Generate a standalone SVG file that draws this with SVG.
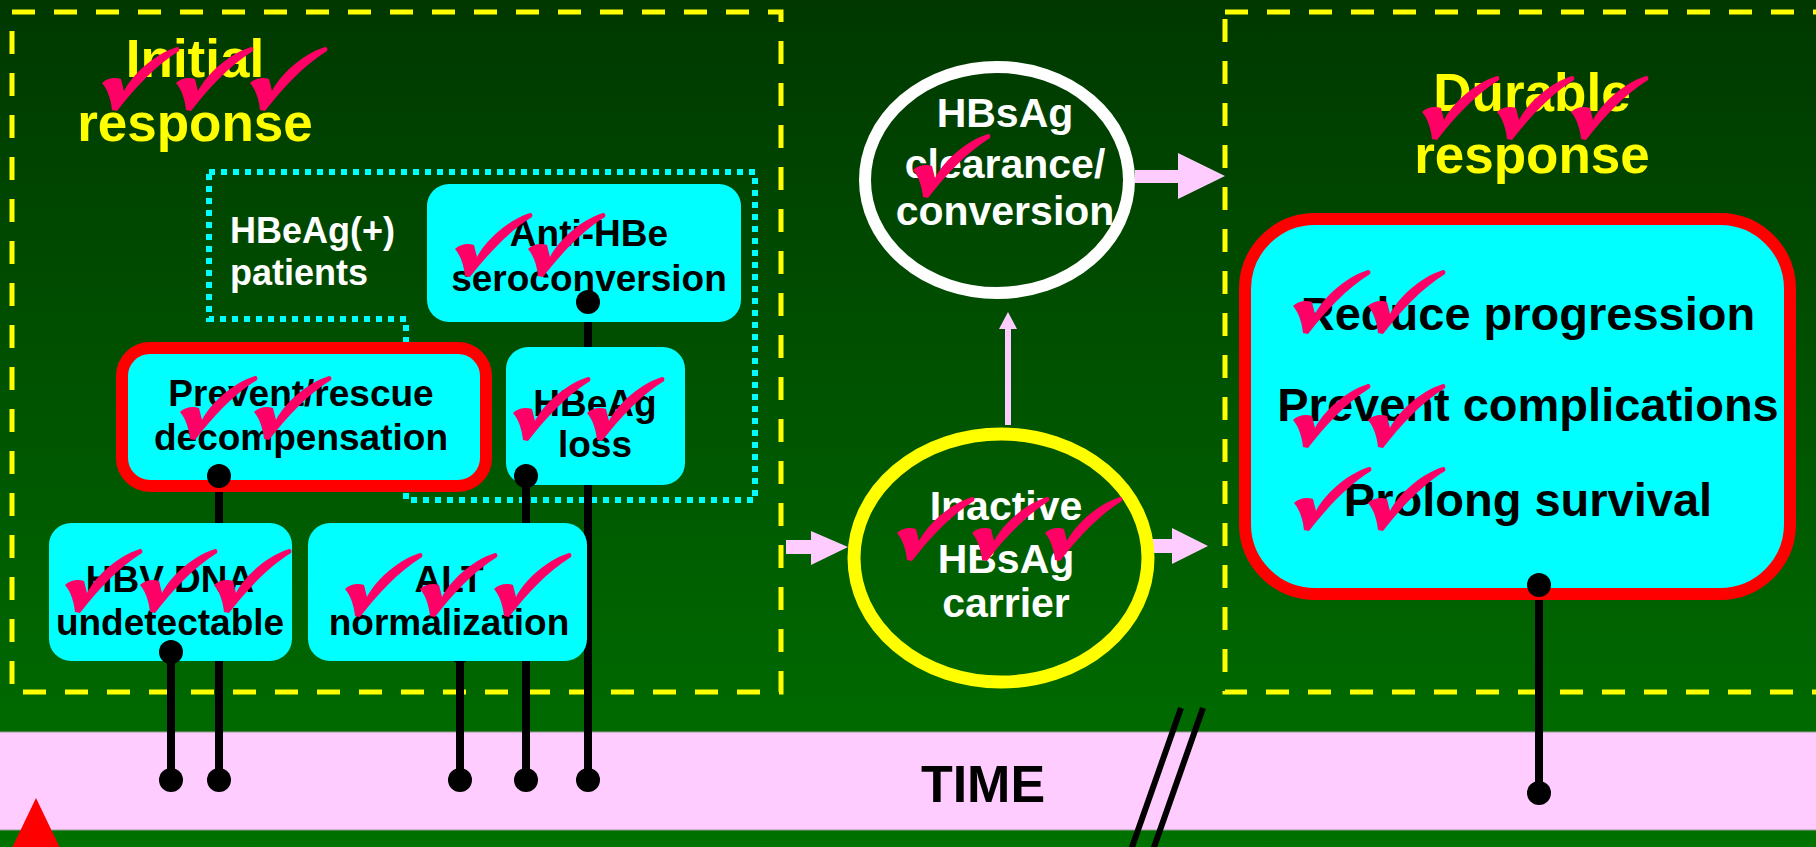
<svg xmlns="http://www.w3.org/2000/svg" xmlns:xlink="http://www.w3.org/1999/xlink" width="1816" height="847" viewBox="0 0 1816 847">
<style>
.t{font-family:"Liberation Sans",Arial,sans-serif;font-weight:bold;text-anchor:middle}
.box{fill:#00FFFF}
.bt{font-size:37px;fill:#000}
.wt{font-size:41px;fill:#FFFFFF}
.yt{font-size:53px;fill:#FFFF00}
.dt{font-size:47px;fill:#000}
.dash{fill:none;stroke:#FFFF00;stroke-width:5;stroke-dasharray:23 19}
.conn{fill:none;stroke:#000;stroke-width:8}
.arr{fill:#FFCCFF}
.ball{fill:#000}
.chk{fill:#FF0066}
</style>
<defs>
<linearGradient id="bg" x1="0" y1="0" x2="0" y2="1">
<stop offset="0" stop-color="#003800"/>
<stop offset="1" stop-color="#007200"/>
</linearGradient>
<marker id="dot" markerUnits="userSpaceOnUse" markerWidth="26" markerHeight="26" refX="13" refY="13" orient="auto">
<circle cx="13" cy="13" r="12" fill="#000"/>
</marker>
<path id="chk" d="M0,36 C5,31 13,30 19,32 L22,44 C29,30 50,8 75,0 C77,-0.5 78,2 77,4 C54,18 32,42 15,64 L10,63 C9,53 6,43 0,36 Z"/>
</defs>

<rect x="0" y="0" width="1816" height="847" fill="url(#bg)"/>
<rect id="time-band" x="-2" y="732" width="1820" height="98" fill="#FFCCFF" stroke="#9a9a9a" stroke-width="1"/>
<polygon points="36,798 11,850 61,850" fill="#FF0000"/>
<g id="time-axis">
<text class="t" x="983" y="802" style="font-size:52px;fill:#000">TIME</text>
<line x1="1181" y1="708" x2="1131" y2="850" stroke="#000" stroke-width="6"/>
<line x1="1203" y1="708" x2="1153" y2="850" stroke="#000" stroke-width="6"/>
</g>

<g id="initial-response">
<rect class="dash" x="12" y="12" width="769" height="680"/>
<text class="t yt" x="195" y="77">Initial</text>
<text class="t yt" x="195" y="141">response</text>
</g>

<g id="durable-response">
<rect class="dash" x="1225" y="12" width="700" height="680"/>
<text class="t yt" x="1532" y="111">Durable</text>
<text class="t yt" x="1532" y="173">response</text>
</g>

<g id="hbeag-positive">
<path d="M209,172 H755 V500 H406 V319 H209 Z" fill="none" stroke="#00FFFF" stroke-width="6" stroke-dasharray="6 6"/>
<text x="230" y="243" style="font-family:'Liberation Sans',Arial,sans-serif;font-weight:bold;font-size:36px;fill:#FFFFFF">HBeAg(+)</text>
<text x="230" y="285" style="font-family:'Liberation Sans',Arial,sans-serif;font-weight:bold;font-size:36px;fill:#FFFFFF">patients</text>
</g>

<g id="connectors">
<line class="conn" x1="171" y1="652" x2="171" y2="780" marker-end="url(#dot)"/>
<line class="conn" x1="219" y1="476" x2="219" y2="780" marker-end="url(#dot)"/>
<line class="conn" x1="460" y1="650" x2="460" y2="780" marker-end="url(#dot)"/>
<line class="conn" x1="526" y1="476" x2="526" y2="780" marker-end="url(#dot)"/>
<line class="conn" x1="588" y1="302" x2="588" y2="780" marker-end="url(#dot)"/>
<line class="conn" x1="1539" y1="585" x2="1539" y2="793" marker-end="url(#dot)"/>
<polygon class="arr" points="786,540 811,540 811,531 848,547 811,565 811,554 786,554"/>
<polygon class="arr" points="1150,539 1172,539 1172,528 1208,546 1172,564 1172,553 1150,553"/>
<polygon class="arr" points="1135,170 1178,170 1178,153 1225,176 1178,199 1178,183 1135,183"/>
<polygon class="arr" points="1005,425 1005,329 999,329 1008,312 1017,329 1011,329 1011,425"/>
</g>

<g id="anti-hbe">
<rect class="box" x="427" y="184" width="314" height="138" rx="22"/>
<text class="t bt" x="589" y="246">Anti-HBe</text>
<text class="t bt" x="589" y="291">seroconversion</text>
<circle class="ball" cx="588" cy="302" r="12"/>
</g>

<g id="prevent-rescue">
<rect class="box" x="122" y="348" width="364" height="138" rx="28" stroke="#FF0000" stroke-width="12"/>
<text class="t bt" x="301" y="406">Prevent/rescue</text>
<text class="t bt" x="301" y="450">decompensation</text>
<circle class="ball" cx="219" cy="476" r="12"/>
</g>

<g id="hbeag-loss">
<rect class="box" x="506" y="347" width="179" height="138" rx="22"/>
<text class="t bt" x="595" y="416">HBeAg</text>
<text class="t bt" x="595" y="457">loss</text>
<circle class="ball" cx="526" cy="476" r="12"/>
</g>

<g id="hbv-dna">
<rect class="box" x="49" y="523" width="243" height="138" rx="22"/>
<text class="t bt" x="170" y="592">HBV DNA</text>
<text class="t bt" x="170" y="635">undetectable</text>
<circle class="ball" cx="171" cy="652" r="12"/>
</g>

<g id="alt">
<circle class="ball" cx="460" cy="651" r="12"/>
<rect class="box" x="308" y="523" width="279" height="138" rx="22"/>
<text class="t bt" x="449" y="592">ALT</text>
<text class="t bt" x="449" y="635">normalization</text>
</g>

<g id="hbsag-clearance">
<ellipse cx="997" cy="180" rx="132" ry="113" fill="none" stroke="#FFFFFF" stroke-width="12"/>
<text class="t wt" x="1005" y="127">HBsAg</text>
<text class="t wt" x="1005" y="178">clearance/</text>
<text class="t wt" x="1005" y="225">conversion</text>
</g>

<g id="inactive-carrier">
<ellipse cx="1001" cy="558" rx="147" ry="124" fill="none" stroke="#FFFF00" stroke-width="13"/>
<text class="t wt" x="1006" y="520">Inactive</text>
<text class="t wt" x="1006" y="573">HBsAg</text>
<text class="t wt" x="1006" y="617">carrier</text>
</g>

<g id="durable-outcomes">
<rect class="box" x="1245" y="219" width="545" height="375" rx="70" stroke="#FF0000" stroke-width="12"/>
<text class="t dt" x="1528" y="330">Reduce progression</text>
<text class="t dt" x="1528" y="421">Prevent complications</text>
<text class="t dt" x="1528" y="516">Prolong survival</text>
<circle class="ball" cx="1539" cy="585" r="12"/>
</g>

<g id="checkmarks" class="chk">
<use xlink:href="#chk" x="102" y="47"/>
<use xlink:href="#chk" x="176" y="47"/>
<use xlink:href="#chk" x="250" y="47"/>
<use xlink:href="#chk" x="1422" y="76"/>
<use xlink:href="#chk" x="1497" y="76"/>
<use xlink:href="#chk" x="1571" y="76"/>
<use xlink:href="#chk" x="455" y="213"/>
<use xlink:href="#chk" x="528" y="213"/>
<use xlink:href="#chk" x="180" y="376"/>
<use xlink:href="#chk" x="254" y="376"/>
<use xlink:href="#chk" x="513" y="377"/>
<use xlink:href="#chk" x="587" y="377"/>
<use xlink:href="#chk" x="65" y="549"/>
<use xlink:href="#chk" x="140" y="549"/>
<use xlink:href="#chk" x="214" y="549"/>
<use xlink:href="#chk" x="345" y="553"/>
<use xlink:href="#chk" x="420" y="553"/>
<use xlink:href="#chk" x="494" y="553"/>
<use xlink:href="#chk" x="913" y="134"/>
<use xlink:href="#chk" x="897" y="497"/>
<use xlink:href="#chk" x="972" y="497"/>
<use xlink:href="#chk" x="1045" y="497"/>
<use xlink:href="#chk" x="1293" y="270"/>
<use xlink:href="#chk" x="1368" y="270"/>
<use xlink:href="#chk" x="1293" y="384"/>
<use xlink:href="#chk" x="1368" y="384"/>
<use xlink:href="#chk" x="1294" y="467"/>
<use xlink:href="#chk" x="1368" y="467"/>
</g>
</svg>
